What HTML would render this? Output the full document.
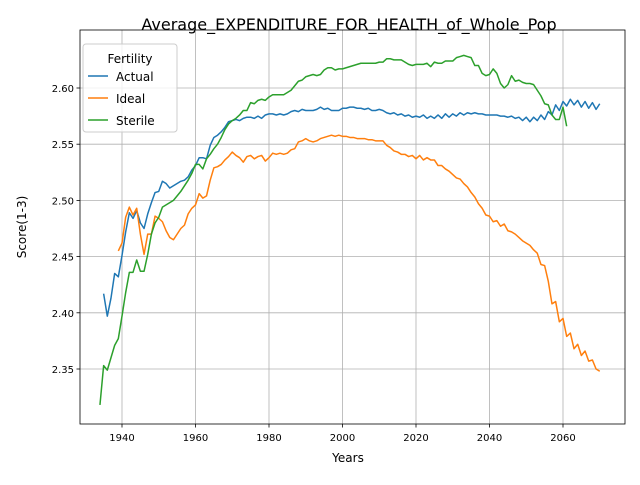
<!DOCTYPE html>
<html><head><meta charset="utf-8"><style>
body{margin:0;background:#fff}
svg text{font-family:"DejaVu Sans","Liberation Sans",sans-serif;fill:#000}
</style></head><body>
<svg id="chart" width="640" height="480" xmlns="http://www.w3.org/2000/svg">
<rect width="640" height="480" fill="#fff"/>
<text x="349" y="30" font-size="16" text-anchor="middle">Average_EXPENDITURE_FOR_HEALTH_of_Whole_Pop</text>
<g id="grid"></g><g id="series"></g><g id="axes"></g>
<text x="348" y="462" font-size="12" text-anchor="middle">Years</text>
<text x="26" y="227" font-size="12" text-anchor="middle" transform="rotate(-90 26 227)">Score(1-3)</text>
<g id="legend">
<rect x="83" y="44" width="94" height="88" fill="#fff" fill-opacity="0.8" stroke="#ccc" rx="3"/>
<text x="130" y="63" font-size="12" text-anchor="middle">Fertility</text>
<g><line x1="88" x2="108" y1="76" y2="76" stroke="#1f77b4" stroke-width="1.5"/><text x="116" y="81" font-size="12">Actual</text></g>
<g><line x1="88" x2="108" y1="98" y2="98" stroke="#ff7f0e" stroke-width="1.5"/><text x="116" y="103" font-size="12">Ideal</text></g>
<g><line x1="88" x2="108" y1="120" y2="120" stroke="#2ca02c" stroke-width="1.5"/><text x="116" y="125" font-size="12">Sterile</text></g>
</g>
</svg>
<script>
const xTicks=[1940,1960,1980,2000,2020,2040,2060];
const yTicks=[2.35,2.40,2.45,2.50,2.55,2.60];
const actualStart=1935;
const actual=[2.417,2.397,2.413,2.435,2.432,2.451,2.472,2.489,2.484,2.491,2.480,2.475,2.488,2.498,2.507,2.508,2.517,2.515,2.511,2.513,2.515,2.517,2.518,2.521,2.527,2.531,2.538,2.538,2.537,2.549,2.556,2.558,2.561,2.565,2.570,2.571,2.572,2.571,2.573,2.574,2.574,2.573,2.575,2.573,2.576,2.577,2.577,2.576,2.577,2.576,2.577,2.579,2.580,2.579,2.581,2.580,2.580,2.580,2.581,2.583,2.581,2.582,2.580,2.580,2.580,2.582,2.582,2.583,2.583,2.582,2.582,2.581,2.582,2.580,2.580,2.581,2.580,2.578,2.577,2.578,2.576,2.577,2.575,2.576,2.574,2.575,2.574,2.576,2.573,2.575,2.573,2.576,2.573,2.577,2.574,2.577,2.575,2.578,2.576,2.578,2.577,2.578,2.577,2.577,2.576,2.576,2.576,2.576,2.575,2.575,2.574,2.575,2.573,2.574,2.571,2.574,2.570,2.574,2.571,2.576,2.572,2.579,2.576,2.585,2.580,2.588,2.584,2.590,2.585,2.589,2.583,2.588,2.582,2.587,2.581,2.586];
const idealStart=1939;
const ideal=[2.455,2.462,2.485,2.494,2.487,2.493,2.470,2.452,2.470,2.470,2.486,2.484,2.481,2.473,2.467,2.465,2.470,2.475,2.478,2.488,2.493,2.496,2.506,2.502,2.504,2.518,2.529,2.530,2.532,2.536,2.539,2.543,2.540,2.538,2.534,2.539,2.540,2.537,2.539,2.540,2.535,2.538,2.542,2.541,2.542,2.541,2.542,2.545,2.546,2.552,2.553,2.555,2.553,2.552,2.553,2.555,2.556,2.557,2.558,2.557,2.558,2.557,2.557,2.556,2.556,2.555,2.555,2.555,2.554,2.554,2.553,2.553,2.553,2.549,2.547,2.544,2.543,2.541,2.541,2.539,2.540,2.537,2.540,2.536,2.538,2.536,2.536,2.531,2.531,2.528,2.526,2.523,2.520,2.519,2.515,2.512,2.507,2.503,2.497,2.493,2.487,2.486,2.481,2.482,2.477,2.479,2.473,2.472,2.470,2.467,2.464,2.462,2.460,2.456,2.453,2.443,2.442,2.428,2.408,2.410,2.392,2.395,2.379,2.382,2.368,2.372,2.362,2.366,2.357,2.358,2.350,2.348];
const sterileStart=1934;
const sterile=[2.318,2.353,2.349,2.360,2.371,2.377,2.397,2.418,2.436,2.436,2.447,2.437,2.437,2.452,2.470,2.480,2.485,2.494,2.496,2.498,2.500,2.504,2.508,2.513,2.518,2.524,2.532,2.532,2.528,2.537,2.541,2.546,2.550,2.556,2.563,2.568,2.571,2.573,2.576,2.580,2.580,2.587,2.586,2.589,2.590,2.589,2.592,2.594,2.594,2.594,2.594,2.596,2.598,2.602,2.606,2.607,2.610,2.611,2.612,2.611,2.612,2.616,2.618,2.618,2.616,2.617,2.617,2.618,2.619,2.620,2.621,2.622,2.622,2.622,2.622,2.622,2.623,2.623,2.626,2.626,2.625,2.625,2.625,2.623,2.621,2.620,2.621,2.621,2.621,2.622,2.619,2.623,2.622,2.622,2.624,2.624,2.624,2.627,2.628,2.629,2.628,2.627,2.620,2.620,2.613,2.611,2.612,2.617,2.613,2.604,2.600,2.603,2.611,2.606,2.607,2.605,2.604,2.604,2.603,2.598,2.593,2.586,2.585,2.576,2.572,2.572,2.583,2.566];
const L=80,R=625,T=30,B=424;
const xs=y=>122+(y-1940)*3.675;
const ys=v=>88+(2.60-v)*1124;
const NS='http://www.w3.org/2000/svg';
function mk(tag,attrs,parent){const e=document.createElementNS(NS,tag);for(const k in attrs)e.setAttribute(k,attrs[k]);parent.appendChild(e);return e;}
const grid=document.getElementById('grid'),axes=document.getElementById('axes'),ser=document.getElementById('series');
xTicks.forEach(t=>{const x=xs(t);
 const g=mk('line',{x1:x,x2:x,y1:T,y2:B,stroke:'#b0b0b0','stroke-width':0.8},grid);
 
 
 mk('line',{x1:x,x2:x,y1:B,y2:B+3.5,stroke:'#000','stroke-width':0.8},axes);
 const tx=mk('text',{x:x,y:B+17,'font-size':10,'text-anchor':'middle'},axes);tx.textContent=t;
 
 
});
yTicks.forEach(t=>{const y=ys(t);
 const g=mk('line',{x1:L,x2:R,y1:y,y2:y,stroke:'#b0b0b0','stroke-width':0.8},grid);
 
 
 mk('line',{x1:L-3.5,x2:L,y1:y,y2:y,stroke:'#000','stroke-width':0.8},axes);
 const tx=mk('text',{x:L-6,y:y+4,'font-size':10,'text-anchor':'end'},axes);tx.textContent=t.toFixed(2);
 
 
});
const fr=mk('rect',{x:L,y:T,width:R-L,height:B-T,fill:'none',stroke:'#000','stroke-width':0.8},axes);


function line(data,start,color,name){
 const pts=data.map((v,i)=>xs(start+i).toFixed(2)+','+ys(v).toFixed(2)).join(' ');
 const p=mk('polyline',{points:pts,fill:'none',stroke:color,'stroke-width':1.5,'stroke-linejoin':'round'},ser);
 
 
}
line(actual,actualStart,'#1f77b4','actual-line');
line(ideal,idealStart,'#ff7f0e','ideal-line');
line(sterile,sterileStart,'#2ca02c','sterile-line');
</script>
</body></html>
